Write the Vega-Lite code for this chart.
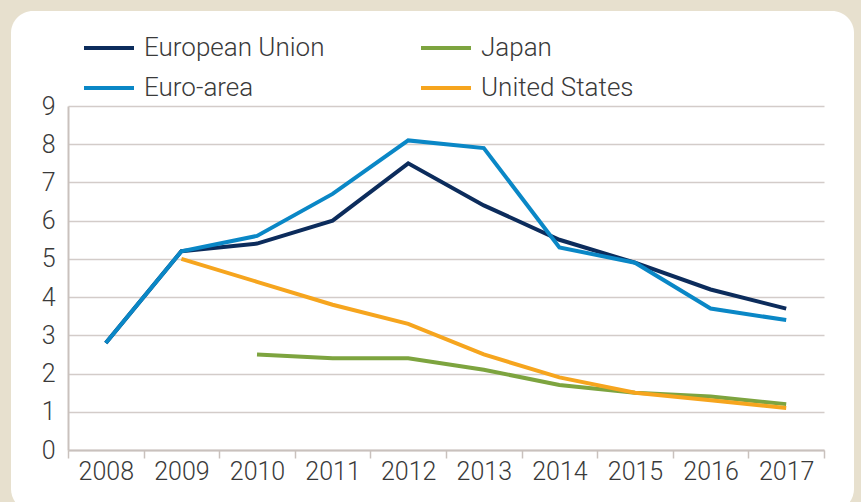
{
  "$schema": "https://vega.github.io/schema/vega-lite/v6.json",
  "width": 843,
  "height": 500,
  "autosize": {"type": "none"},
  "padding": {"left": 11, "top": 11, "right": 7, "bottom": 0},
  "background": "#E7E0CE",
  "config": {
    "view": {"fill": "white", "stroke": null, "cornerRadius": 22},
    "font": "Roboto"
  },
  "data": {
    "values": [
      {"year": "2008", "series": "European Union", "value": 2.8},
      {"year": "2009", "series": "European Union", "value": 5.2},
      {"year": "2010", "series": "European Union", "value": 5.4},
      {"year": "2011", "series": "European Union", "value": 6.0},
      {"year": "2012", "series": "European Union", "value": 7.5},
      {"year": "2013", "series": "European Union", "value": 6.4},
      {"year": "2014", "series": "European Union", "value": 5.5},
      {"year": "2015", "series": "European Union", "value": 4.9},
      {"year": "2016", "series": "European Union", "value": 4.2},
      {"year": "2017", "series": "European Union", "value": 3.7},
      {"year": "2008", "series": "Euro-area", "value": 2.8},
      {"year": "2009", "series": "Euro-area", "value": 5.2},
      {"year": "2010", "series": "Euro-area", "value": 5.6},
      {"year": "2011", "series": "Euro-area", "value": 6.7},
      {"year": "2012", "series": "Euro-area", "value": 8.1},
      {"year": "2013", "series": "Euro-area", "value": 7.9},
      {"year": "2014", "series": "Euro-area", "value": 5.3},
      {"year": "2015", "series": "Euro-area", "value": 4.9},
      {"year": "2016", "series": "Euro-area", "value": 3.7},
      {"year": "2017", "series": "Euro-area", "value": 3.4},
      {"year": "2010", "series": "Japan", "value": 2.5},
      {"year": "2011", "series": "Japan", "value": 2.4},
      {"year": "2012", "series": "Japan", "value": 2.4},
      {"year": "2013", "series": "Japan", "value": 2.1},
      {"year": "2014", "series": "Japan", "value": 1.7},
      {"year": "2015", "series": "Japan", "value": 1.5},
      {"year": "2016", "series": "Japan", "value": 1.4},
      {"year": "2017", "series": "Japan", "value": 1.2},
      {"year": "2009", "series": "United States", "value": 5.0},
      {"year": "2010", "series": "United States", "value": 4.4},
      {"year": "2011", "series": "United States", "value": 3.8},
      {"year": "2012", "series": "United States", "value": 3.3},
      {"year": "2013", "series": "United States", "value": 2.5},
      {"year": "2014", "series": "United States", "value": 1.9},
      {"year": "2015", "series": "United States", "value": 1.5},
      {"year": "2016", "series": "United States", "value": 1.3},
      {"year": "2017", "series": "United States", "value": 1.1}
    ]
  },
  "mark": {"type": "line", "strokeWidth": 4},
  "encoding": {
    "x": {
      "field": "year",
      "type": "ordinal",
      "scale": {"type": "band", "range": [57, 813], "paddingInner": 0, "paddingOuter": 0},
      "axis": {
        "title": null,
        "offset": -61,
        "tickBand": "extent",
        "tickSize": 8,
        "tickWidth": 1.5,
        "tickColor": "#C9C1BD",
        "domainColor": "#C9C1BD",
        "domainWidth": 2,
        "labelAngle": 0,
        "labelFontSize": 25,
        "labelFont": "Roboto",
        "labelFontWeight": 300,
        "labelColor": "#3A3A3A",
        "labelPadding": 1,
        "grid": false
      }
    },
    "y": {
      "field": "value",
      "type": "quantitative",
      "scale": {"domain": [0, 9], "range": [439, 95], "nice": false, "zero": true},
      "axis": {
        "title": null,
        "offset": -57,
        "values": [0, 1, 2, 3, 4, 5, 6, 7, 8, 9],
        "ticks": false,
        "domainColor": "#C9C1BD",
        "domainWidth": 2,
        "grid": true,
        "gridColor": "#D3CCC9",
        "gridWidth": 1.5,
        "labelFontSize": 25,
        "labelFont": "Roboto",
        "labelFontWeight": 300,
        "labelColor": "#3A3A3A",
        "labelPadding": 13
      }
    },
    "color": {
      "field": "series",
      "type": "nominal",
      "scale": {
        "domain": ["European Union", "Japan", "Euro-area", "United States"],
        "range": ["#0C2C5C", "#7DA43F", "#0A87C6", "#F6A51E"]
      },
      "legend": {
        "title": null,
        "orient": "none",
        "legendX": 71,
        "legendY": 10,
        "direction": "horizontal",
        "columns": 2,
        "padding": 0,
        "symbolType": "stroke",
        "symbolSize": 2500,
        "symbolStrokeWidth": 4,
        "labelFontSize": 26,
        "labelFont": "Roboto",
        "labelFontWeight": 300,
        "labelColor": "#3A3A3A",
        "labelOffset": 8,
        "labelLimit": 400,
        "columnPadding": 88,
        "rowPadding": -22
      }
    }
  }
}
